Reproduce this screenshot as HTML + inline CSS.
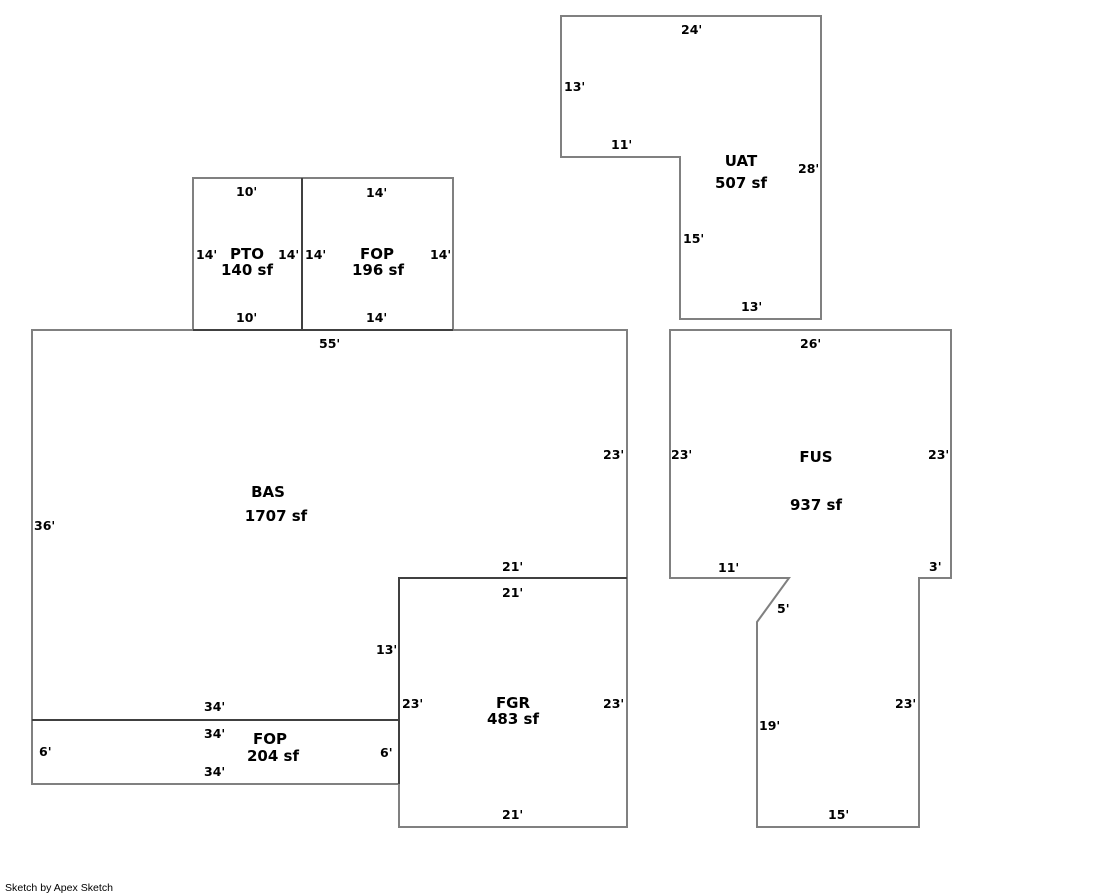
<!DOCTYPE html>
<html><head><meta charset="utf-8"><style>
html,body{margin:0;padding:0;background:#fff;}
svg{display:block;}
text{font-family:"DejaVu Sans","Liberation Sans",sans-serif;font-weight:bold;fill:#000;}
.d{font-size:12.5px;}
.n{font-size:15px;}
</style></head><body>
<svg width="1119" height="893" viewBox="0 0 1119 893" xmlns="http://www.w3.org/2000/svg">
<g fill="none" stroke="#808080" stroke-width="2">
<polygon points="561,16 821,16 821,319 680,319 680,157 561,157"/>
<polyline points="193,330 193,178 453,178 453,330"/>
<polyline points="399,784 399,827 627,827 627,330 32,330 32,784 399,784"/>
<polygon points="670,330 951,330 951,578 919,578 919,827 757,827 757,622 789,578 670,578"/>
</g>
<g fill="none" stroke="#404040" stroke-width="2">
<line x1="302" y1="178" x2="302" y2="330"/>
<line x1="193" y1="330" x2="453" y2="330"/>
<polyline points="627,578 399,578 399,784"/>
<line x1="32" y1="720" x2="399" y2="720"/>
</g>

<text class="d" x="681" y="34">24'</text>
<text class="d" x="564" y="91">13'</text>
<text class="d" x="611" y="149">11'</text>
<text class="n" x="741" y="166" text-anchor="middle">UAT</text>
<text class="n" x="741" y="188" text-anchor="middle">507 sf</text>
<text class="d" x="798" y="173">28'</text>
<text class="d" x="683" y="243">15'</text>
<text class="d" x="741" y="311">13'</text>

<text class="d" x="236" y="196">10'</text>
<text class="d" x="196" y="259">14'</text>
<text class="n" x="247" y="259" text-anchor="middle">PTO</text>
<text class="d" x="278" y="259">14'</text>
<text class="n" x="247" y="275" text-anchor="middle">140 sf</text>
<text class="d" x="236" y="322">10'</text>

<text class="d" x="366" y="197">14'</text>
<text class="d" x="305" y="259">14'</text>
<text class="n" x="377" y="259" text-anchor="middle">FOP</text>
<text class="d" x="430" y="259">14'</text>
<text class="n" x="378" y="275" text-anchor="middle">196 sf</text>
<text class="d" x="366" y="322">14'</text>

<text class="d" x="319" y="348">55'</text>
<text class="n" x="268" y="497" text-anchor="middle">BAS</text>
<text class="n" x="276" y="521" text-anchor="middle">1707 sf</text>
<text class="d" x="603" y="459">23'</text>
<text class="d" x="34" y="530">36'</text>
<text class="d" x="502" y="571">21'</text>
<text class="d" x="376" y="654">13'</text>
<text class="d" x="204" y="711">34'</text>

<text class="d" x="502" y="597">21'</text>
<text class="d" x="402" y="708">23'</text>
<text class="n" x="513" y="708" text-anchor="middle">FGR</text>
<text class="n" x="513" y="724" text-anchor="middle">483 sf</text>
<text class="d" x="603" y="708">23'</text>
<text class="d" x="502" y="819">21'</text>

<text class="d" x="204" y="738">34'</text>
<text class="n" x="270" y="744" text-anchor="middle">FOP</text>
<text class="n" x="273" y="761" text-anchor="middle">204 sf</text>
<text class="d" x="39" y="756">6'</text>
<text class="d" x="380" y="757">6'</text>
<text class="d" x="204" y="776">34'</text>

<text class="d" x="800" y="348">26'</text>
<text class="d" x="671" y="459">23'</text>
<text class="n" x="816" y="462" text-anchor="middle">FUS</text>
<text class="d" x="928" y="459">23'</text>
<text class="n" x="816" y="510" text-anchor="middle">937 sf</text>
<text class="d" x="718" y="572">11'</text>
<text class="d" x="929" y="571">3'</text>
<text class="d" x="777" y="613">5'</text>
<text class="d" x="895" y="708">23'</text>
<text class="d" x="759" y="730">19'</text>
<text class="d" x="828" y="819">15'</text>

<text x="5" y="891" style="font-family:'Liberation Sans',sans-serif;font-weight:normal;font-size:10px;" textLength="108" lengthAdjust="spacingAndGlyphs">Sketch by Apex Sketch</text>
</svg>
</body></html>
